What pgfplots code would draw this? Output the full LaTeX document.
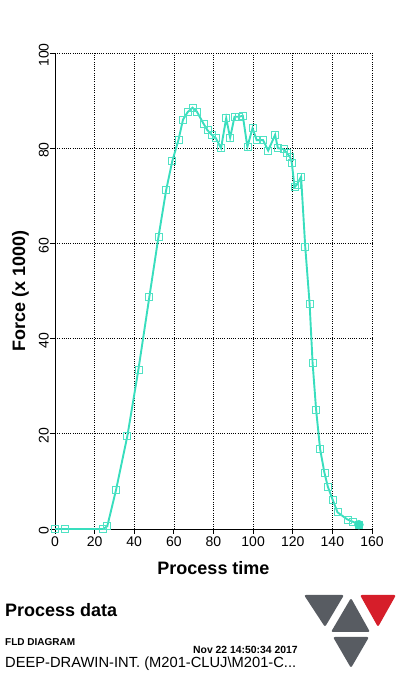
\documentclass[border=0pt]{standalone}
\usepackage{fontspec}
\setmainfont{Liberation Sans}
\usepackage{pgfplots}
\pgfplotsset{compat=1.18}
\definecolor{turq}{RGB}{56,222,190}
\definecolor{turqm}{RGB}{80,226,196}
\definecolor{logogray}{RGB}{88,92,98}
\definecolor{logored}{RGB}{214,30,42}
\begin{document}
\begin{tikzpicture}[x=1pt,y=1pt]
\useasboundingbox (0,0) rectangle (400,683);
\begin{axis}[
  at={(55pt,154pt)}, anchor=south west,
  scale only axis, width=317pt, height=476pt,
  xmin=0, xmax=160, ymin=0, ymax=100,
  xtick={0,20,...,160}, ytick={0,20,...,100},
  axis x line=bottom, axis y line=left,
  axis line style={-, black, line width=0.9pt},
  tick align=outside, major tick length=5pt,
  tick style={black, line width=0.8pt},
  grid=major,
  major grid style={black, line width=0.7pt, dash pattern=on 1pt off 1.2pt},
  ticklabel style={font=\fontsize{14}{16}\selectfont},
  /pgf/number format/assume math mode=true,
  yticklabel style={rotate=90, anchor=south, inner sep=1pt, xshift=-2pt},
  xticklabel style={anchor=north, inner sep=1pt, yshift=-2pt},
  every axis x label/.style={at={(axis description cs:0.5,-0.0966)}, anchor=base, inner sep=0pt},
  every axis y label/.style={at={(axis description cs:-0.0946,0.5)}, anchor=base, rotate=90, inner sep=0pt},
  xlabel={\fontsize{18}{20}\selectfont\bfseries Process time},
  ylabel={\fontsize{18}{20}\selectfont\bfseries Force (x 1000)},
  clip=false,
]
\addplot[color=turq, line width=1.9pt, mark=square, mark size=3.5pt,
  mark options={solid, draw=turqm, fill=none, line width=0.7pt}] coordinates {
(0,0) (5,0) (24.4,0) (26.4,0.6) (30.8,8.2) (36.5,19.5) (42.1,33.5) (47.6,48.7)
(52.2,61.3) (56.1,71.2) (59.2,77.3) (62.3,81.7) (64.6,86.0) (67,87.6) (69.4,88.5)
(71.6,87.7) (74.9,85.2) (76.9,83.8) (79.1,82.8) (81.2,82.1) (83.8,80.0) (86.4,86.3)
(88.4,82.2) (90.6,86.6) (92.6,86.6) (94.8,86.8) (97.1,80.3) (99.7,84.2) (101.8,81.7)
(105.0,81.7) (107.6,79.5) (111.1,82.8) (112.5,80.0) (115.3,79.8) (117.0,79.0)
(118.7,78.1) (119.5,77.0) (120.9,71.8) (122.0,72.3) (124.2,74.0) (126.3,59.3)
(128.5,47.4) (130.0,35.0) (131.8,25.0) (133.8,16.8) (136.0,11.8) (137.7,8.9)
(140.1,6.2) (142.6,3.5) (147.6,2.0) (150.5,1.5) (153.4,0.9)
};
\addplot[only marks, mark=*, mark size=4.5pt,
  mark options={fill=turq, draw=turq}] coordinates {(153.4,0.9)};
\end{axis}
% footer texts
\node[anchor=base west, inner sep=0pt] at (5,66.3) {\fontsize{18}{21}\selectfont\bfseries Process data};
\node[anchor=base west, inner sep=0pt] at (5,37.7) {\fontsize{10}{12}\selectfont\bfseries FLD DIAGRAM};
\node[anchor=base east, inner sep=0pt] at (298,29) {\fontsize{10.4}{12}\selectfont\bfseries Nov 22 14:50:34 2017};
\node[anchor=base west, inner sep=0pt] at (5,16) {\fontsize{14.7}{17}\selectfont DEEP-DRAWIN-INT. (M201-CLUJ\textbackslash M201-C...};
% logo
\fill[logogray, rounded corners=2pt] (304,88) -- (344,88) -- (325,56) -- cycle;
\fill[logogray, rounded corners=2pt] (331,51) -- (370,51) -- (351,85) -- cycle;
\fill[logored, rounded corners=2pt] (360,88) -- (396,88) -- (378,56) -- cycle;
\fill[logogray, rounded corners=2pt] (333,46) -- (369,46) -- (351,15) -- cycle;
\end{tikzpicture}
\end{document}
